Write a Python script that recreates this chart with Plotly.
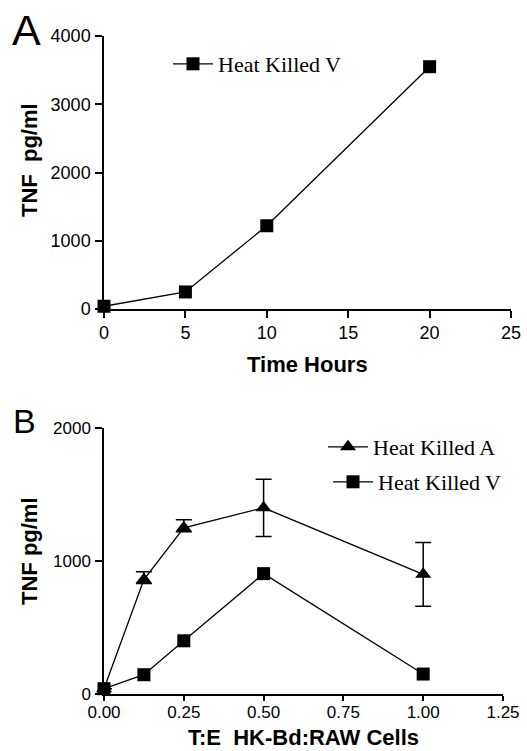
import plotly.graph_objects as go

W, H = 527, 751

# Panel A data
time_hours = [0, 5, 10, 20]
tnf_hkv_time = [40, 250, 1220, 3550]

# Panel B data
ratio = [0, 0.125, 0.25, 0.5, 1.0]
tnf_hka = [40, 860, 1250, 1400, 900]
tnf_hka_err_plus = [0, 60, 60, 215, 240]
tnf_hka_err_minus = [0, 30, 30, 215, 240]
tnf_hkv_ratio = [40, 145, 400, 905, 150]

xticks_a = [0, 5, 10, 15, 20, 25]
yticks_a = [0, 1000, 2000, 3000, 4000]
xticks_b = [0, 0.25, 0.5, 0.75, 1.0, 1.25]
xticklabels_b = ["0.00", "0.25", "0.50", "0.75", "1.00", "1.25"]
yticks_b = [0, 1000, 2000]


def px(x):
    return x / W


def py(y):
    return 1 - y / H


fig = go.Figure()

fig.add_trace(go.Scatter(
    x=time_hours, y=tnf_hkv_time, mode="lines+markers", name="Heat Killed V",
    line=dict(color="black", width=1.3),
    marker=dict(symbol="square", size=13, color="black"),
    xaxis="x", yaxis="y", cliponaxis=False, legend="legend",
))

fig.add_trace(go.Scatter(
    x=ratio, y=tnf_hka, mode="lines+markers", name="Heat Killed A",
    line=dict(color="black", width=1.3),
    marker=dict(symbol="triangle-up", size=14, color="black"),
    error_y=dict(type="data", array=tnf_hka_err_plus, arrayminus=tnf_hka_err_minus,
                 color="black", thickness=1.5, width=8),
    xaxis="x2", yaxis="y2", cliponaxis=False, legend="legend2",
))

fig.add_trace(go.Scatter(
    x=ratio, y=tnf_hkv_ratio, mode="lines+markers", name="Heat Killed V",
    line=dict(color="black", width=1.3),
    marker=dict(symbol="square", size=13, color="black"),
    xaxis="x2", yaxis="y2", cliponaxis=False, legend="legend3",
))

tickfont_a = dict(family="Liberation Sans, Arial", size=18, color="black")
tickfont_b = dict(family="Liberation Sans, Arial", size=17, color="black")
axis_common = dict(showline=True, linecolor="black", linewidth=1.5, ticks="outside",
                   tickcolor="black", tickwidth=1.5, showgrid=False, zeroline=False,
                   automargin=False)

legend_font = dict(family="Liberation Serif, Times New Roman", size=22, color="black")
legend_common = dict(font=legend_font, bgcolor="rgba(0,0,0,0)", borderwidth=0,
                     xanchor="left", yanchor="middle", itemsizing="trace", itemwidth=40)

fig.update_layout(
    width=W, height=H,
    margin=dict(l=0, r=0, t=0, b=0, autoexpand=False),
    paper_bgcolor="white", plot_bgcolor="white",
    xaxis=dict(domain=[px(104), px(511)], range=[0, 25], tickvals=xticks_a,
               ticklen=7, tickfont=tickfont_a, anchor="y", **axis_common),
    yaxis=dict(domain=[py(309), py(36)], range=[0, 4000], tickvals=yticks_a,
               ticklen=7, tickfont=tickfont_a, anchor="x", ticklabelstandoff=1, **axis_common),
    xaxis2=dict(domain=[px(104), px(503)], range=[0, 1.25], tickvals=xticks_b,
                ticktext=xticklabels_b, ticklen=5, tickfont=tickfont_b, anchor="y2",
                ticklabelstandoff=-3, **axis_common),
    yaxis2=dict(domain=[py(694), py(428)], range=[0, 2000], tickvals=yticks_b,
                ticklen=7, tickfont=tickfont_b, anchor="x2", ticklabelstandoff=1, **axis_common),
    legend=dict(x=px(168), y=py(64), **legend_common),
    legend2=dict(x=px(323), y=py(447), **legend_common),
    legend3=dict(x=px(328), y=py(482), **legend_common),
    showlegend=True,
)

title_font = dict(family="Liberation Sans, Arial", size=22, color="black", weight="bold")
ann = [
    dict(text="A", x=px(26), y=py(30), font=dict(family="Liberation Sans, Arial", size=43, color="black")),
    dict(text="B", x=px(24), y=py(421), font=dict(family="Liberation Sans, Arial", size=34, color="black")),
    dict(text="Time Hours", x=px(307), y=py(365), font=title_font),
    dict(text="TNF\u00a0\u00a0pg/ml", x=px(29), y=py(160), textangle=-90, font=title_font),
    dict(text="TNF pg/ml", x=px(29), y=py(551), textangle=-90, font=title_font),
]
for a in ann:
    fig.add_annotation(xref="paper", yref="paper", showarrow=False,
                       xanchor="center", yanchor="middle", **a)

fig.add_annotation(xref="paper", yref="paper", showarrow=False, text="T:E\u00a0\u00a0HK-Bd:RAW Cells",
                   x=px(303), y=0, xanchor="center", yanchor="bottom", borderpad=0,
                   font=title_font)

fig.write_html("out.html", config={"responsive": False, "displayModeBar": False},
               post_script="document.body.style.margin='0';document.body.style.overflow='hidden';")
